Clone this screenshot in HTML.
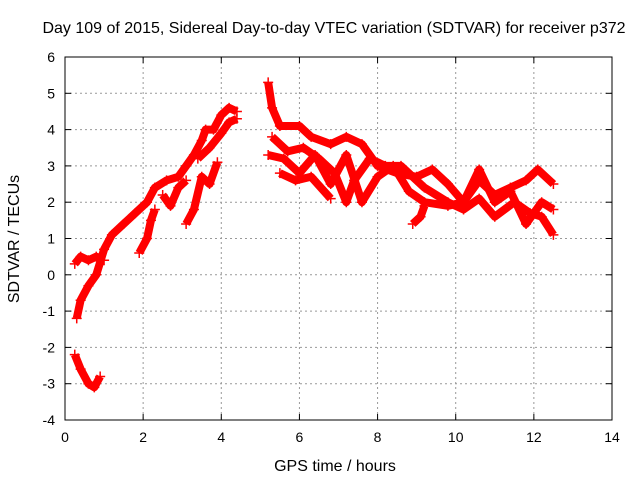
<!DOCTYPE html>
<html><head><meta charset="utf-8"><style>
body{margin:0;background:#fff}
svg{display:block;font-family:"Liberation Sans",sans-serif}
</style></head><body>
<svg id="c" width="640" height="480"></svg>
<script>
const xTicks=[0,2,4,6,8,10,12,14];
const yTicks=[-4,-3,-2,-1,0,1,2,3,4,5,6];
const trackEarly=[[0.3,-1.2],[0.4,-0.7],[0.6,-0.3],[0.8,0],[1.0,0.7],[1.2,1.1],[1.5,1.4],[1.8,1.7],[2.1,2.0],[2.3,2.4],[2.6,2.6],[2.9,2.7],[3.1,3.0],[3.3,3.3],[3.5,3.7],[3.6,4.0],[3.8,4.0],[4.0,4.4],[4.2,4.6],[4.4,4.5]];
const trackUpper2=[[3.4,3.2],[3.7,3.5],[4.0,3.9],[4.2,4.2],[4.4,4.3]];
const trackLoop=[[0.25,0.3],[0.4,0.5],[0.6,0.4],[0.8,0.5],[1.0,0.4]];
const trackLow=[[0.25,-2.2],[0.4,-2.6],[0.6,-3.0],[0.75,-3.1],[0.9,-2.8]];
const trackB1=[[1.9,0.6],[2.1,1.0],[2.2,1.5],[2.3,1.8]];
const trackB2=[[3.1,1.4],[3.3,1.8],[3.5,2.7],[3.7,2.5],[3.9,3.1]];
const trackB3=[[2.5,2.2],[2.7,1.9],[2.9,2.4],[3.1,2.6]];
const trackR1=[[5.2,5.3],[5.3,4.6],[5.5,4.1],[6.0,4.1],[6.3,3.8],[6.8,3.6],[7.2,3.8],[7.6,3.6],[8.0,3.0],[8.5,2.8],[9.0,2.7],[9.4,2.9],[9.8,2.5],[10.2,2.0],[10.6,2.6],[11.0,2.2],[11.4,2.4],[11.8,2.6],[12.1,2.9],[12.5,2.5]];
const trackR2=[[5.2,3.3],[5.6,3.2],[6.0,2.8],[6.4,3.3],[6.8,2.5],[7.2,3.3],[7.6,2.0],[8.0,2.7],[8.4,3.0],[8.8,2.3],[9.2,2.0],[9.8,1.9],[10.2,2.0],[10.6,2.9],[11.0,2.0],[11.4,2.3],[11.8,1.4],[12.2,2.0],[12.5,1.8]];
const trackR3=[[5.3,3.8],[5.7,3.4],[6.1,3.5],[6.5,3.2],[6.9,2.8],[7.2,2.0],[7.4,2.6],[7.8,3.2],[8.2,3.0],[8.6,3.0],[9.2,2.4],[9.8,2.0],[10.2,1.8],[10.6,2.1],[11.0,1.6],[11.5,2.0],[11.9,1.7],[12.2,1.6],[12.5,1.1]];
const trackR4=[[5.5,2.8],[5.9,2.6],[6.3,2.7],[6.8,2.1]];
const trackR5=[[8.9,1.4],[9.1,1.6],[9.2,1.9]];
const tracks=[trackEarly,trackUpper2,trackLoop,trackLow,trackB1,trackB2,trackB3,trackR1,trackR2,trackR3,trackR4,trackR5];

const L=65,R=612,T=57,B=420;
const X=t=>L+(t-0)/(14-0)*(R-L);
const Y=v=>B-(v+4)/(10)*(B-T);
const s=document.getElementById('c');
const NS='http://www.w3.org/2000/svg';
function mk(tag,attrs,parent){const e=document.createElementNS(NS,tag);for(const k in attrs)e.setAttribute(k,attrs[k]);(parent||s).appendChild(e);return e;}

xTicks.forEach(t=>{
  if(t>0&&t<14){const g=mk('line',{x1:X(t),x2:X(t),y1:T,y2:B,stroke:'#999','stroke-dasharray':'2,3'});
  
  }
  const tx=mk('text',{x:X(t),y:B+22,'text-anchor':'middle','font-size':14,fill:'#000'});tx.textContent=t;
  
  
  mk('line',{x1:X(t),x2:X(t),y1:B,y2:B-6,stroke:'#000'});mk('line',{x1:X(t),x2:X(t),y1:T,y2:T+6,stroke:'#000'});
});
yTicks.forEach(v=>{
  if(v>-4&&v<6){const g=mk('line',{x1:L,x2:R,y1:Y(v),y2:Y(v),stroke:'#999','stroke-dasharray':'2,3'});
  
  }
  const tx=mk('text',{x:L-10,y:Y(v)+5,'text-anchor':'end','font-size':14,fill:'#000'});tx.textContent=v;
  
  
  mk('line',{x1:L,x2:L+6,y1:Y(v),y2:Y(v),stroke:'#000'});mk('line',{x1:R,x2:R-6,y1:Y(v),y2:Y(v),stroke:'#000'});
});

tracks.forEach(tr=>{
  const p=mk('polyline',{points:tr.map(d=>X(d[0])+','+Y(d[1])).join(' '),fill:'none',stroke:'#f00','stroke-width':8,'stroke-linejoin':'round'});
  
  
  tr.forEach(d=>{
    const m=mk('path',{d:`M${X(d[0])-5},${Y(d[1])}h10M${X(d[0])},${Y(d[1])-5}v10`,stroke:'#f00','stroke-width':1.5});
    
    
  });
});

const fr=mk('rect',{x:L,y:T,width:R-L,height:B-T,fill:'none',stroke:'#000'});


const ti=mk('text',{x:334,y:33,'text-anchor':'middle','font-size':16,fill:'#000'});
ti.textContent='Day 109 of 2015, Sidereal Day-to-day VTEC variation (SDTVAR) for receiver p372';


const xl=mk('text',{x:335,y:471,'text-anchor':'middle','font-size':16,fill:'#000'});
xl.textContent='GPS time / hours';


const yl=mk('text',{x:0,y:0,'text-anchor':'middle','font-size':16,fill:'#000',transform:'translate(19,239) rotate(-90)'});
yl.textContent='SDTVAR / TECUs';


</script>
</body></html>
